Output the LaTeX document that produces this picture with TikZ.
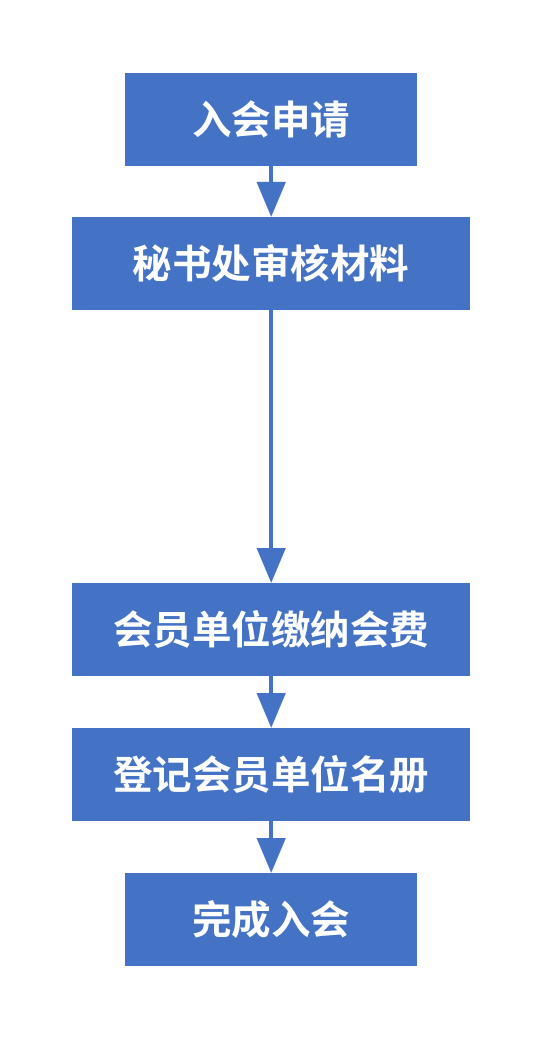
\documentclass[tikz,border=0pt]{standalone}
\usepackage{fontspec}
\newfontfamily\cjk{Noto Sans CJK SC Bold}
\usetikzlibrary{arrows.meta}
\definecolor{boxblue}{HTML}{4472C4}
\tikzset{
  stepbox/.style={fill=boxblue, draw=none, text=white, font=\cjk\fontsize{39.5pt}{42pt}\selectfont, inner sep=0pt, anchor=north west},
  flow/.style={draw=boxblue, line width=4.5pt, -{Triangle[length=35pt,width=28pt]}}
}
\newcommand{\lowtxt}[1]{\raisebox{-3pt}{#1}}
\begin{document}
\begin{tikzpicture}[x=1pt,y=-1pt]
\useasboundingbox[fill=white] (0,0) rectangle (543,1040);
\node[stepbox, minimum width=292pt, minimum height=93pt] (a) at (125,73) {\lowtxt{入会申请}};
\node[stepbox, minimum width=398pt, minimum height=93pt] (b) at (72,217) {\lowtxt{秘书处审核材料}};
\node[stepbox, minimum width=398pt, minimum height=93pt] (c) at (72,583) {\lowtxt{会员单位缴纳会费}};
\node[stepbox, minimum width=398pt, minimum height=93pt] (d) at (72,728) {\lowtxt{登记会员单位名册}};
\node[stepbox, minimum width=292pt, minimum height=93pt] (e) at (125,873) {\lowtxt{完成入会}};
\draw[flow] (a.south) -- (b.north);
\draw[flow] (b.south) -- (c.north);
\draw[flow] (c.south) -- (d.north);
\draw[flow] (d.south) -- (e.north);
\end{tikzpicture}
\end{document}
